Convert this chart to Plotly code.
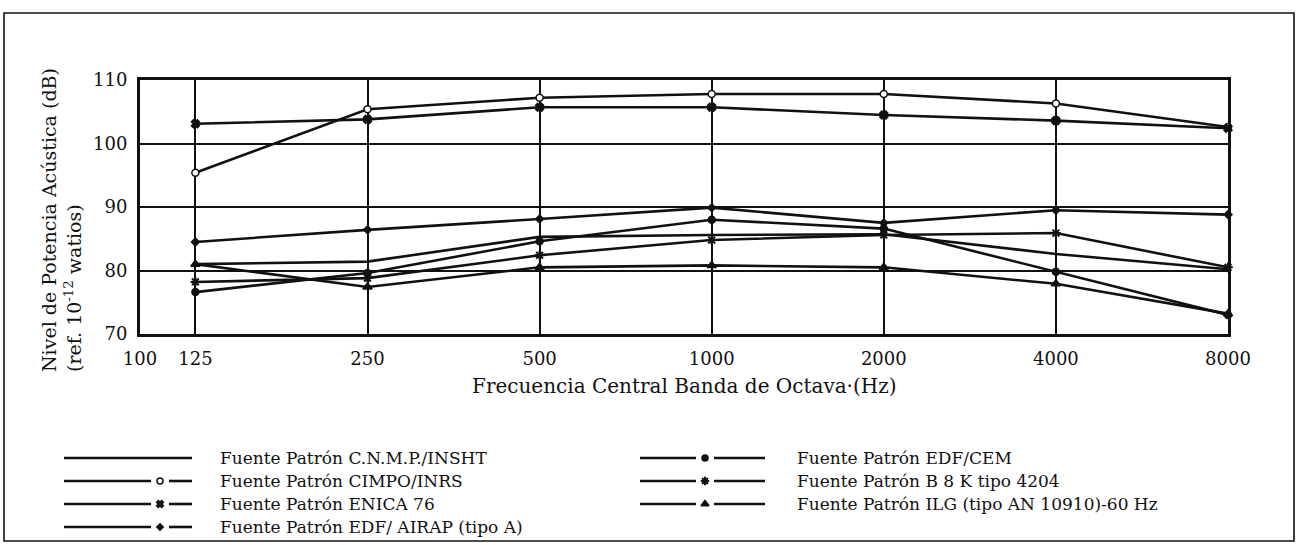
import math
import plotly.graph_objects as go

# ---------------- data ----------------
freqs = [125, 250, 500, 1000, 2000, 4000, 8000]
x_tick_vals = [100, 125, 250, 500, 1000, 2000, 4000, 8000]
x_tick_text = ["100", "125", "250", "500", "1000", "2000", "4000", "8000"]
y_tick_vals = [70, 80, 90, 100, 110]

series_names = [
    "Fuente Patrón C.N.M.P./INSHT",
    "Fuente Patrón CIMPO/INRS",
    "Fuente Patrón ENICA 76",
    "Fuente Patrón EDF/ AIRAP (tipo A)",
    "Fuente Patrón EDF/CEM",
    "Fuente Patrón B 8 K tipo 4204",
    "Fuente Patrón ILG (tipo AN 10910)-60 Hz",
]
cnmp = [81.0, 81.4, 85.3, 85.6, 85.7, 82.6, 80.2]
cimpo = [95.4, 105.4, 107.2, 107.8, 107.8, 106.3, 102.6]
enica = [103.1, 103.8, 105.7, 105.7, 104.5, 103.6, 102.4]
airap = [84.5, 86.4, 88.1, 89.9, 87.5, 89.5, 88.8]
cem = [76.6, 79.6, 84.6, 88.0, 86.6, 79.8, 73.0]
bk = [78.2, 78.8, 82.4, 84.8, 85.6, 85.9, 80.5]
ilg = [81.0, 77.4, 80.5, 80.8, 80.5, 77.9, 73.2]
series_values = [cnmp, cimpo, enica, airap, cem, bk, ilg]

# ---------------- styles ----------------
W, H = 1298, 545
FONT = "DejaVu Serif"
INK = "#111111"
symbols = [None, "circle", "x", "diamond", "circle", "asterisk-open", "triangle-up"]
sizes = [0, 7, 7, 6, 7, 8, 8]
fills = [INK, "white", INK, INK, INK, INK, INK]

# plot area in pixels
PL, PR, PT, PB = 140, 1228, 80, 334

fig = go.Figure()

for name, vals, sym, sz, fc in zip(series_names, series_values, symbols, sizes, fills):
    mk = dict(size=sz, color=fc, line=dict(color=INK, width=1.5)) if sym else dict(size=0)
    if sym:
        mk["symbol"] = sym
        if sym == "asterisk-open":
            mk["line"] = dict(color=INK, width=2)
    fig.add_trace(go.Scatter(
        x=freqs, y=vals, name=name, mode="lines+markers" if sym else "lines",
        line=dict(color=INK, width=2.6), marker=mk, showlegend=False,
        xaxis="x", yaxis="y", cliponaxis=False,
    ))

# ---------------- legend (pixel overlay axis) ----------------
left_rows = [458, 481, 504, 527]
right_rows = [458, 481, 504]
col_specs = [
    dict(x0=64, x1=192, xm=160, tx=218),
    dict(x0=640, x1=765, xm=705, tx=795),
]
positions = []
for i in range(4):
    positions.append((col_specs[0], left_rows[i]))
for i in range(3):
    positions.append((col_specs[1], right_rows[i]))

annotations = []
for (spec, yy), name, sym, sz, fc in zip(positions, series_names, symbols, sizes, fills):
    if sym is None:
        fig.add_trace(go.Scatter(x=[spec["x0"], spec["x1"]], y=[yy, yy], mode="lines",
                                 line=dict(color=INK, width=2.6), showlegend=False,
                                 xaxis="x2", yaxis="y2", hoverinfo="skip"))
    else:
        gap = 9
        fig.add_trace(go.Scatter(x=[spec["x0"], spec["xm"] - gap, None, spec["xm"] + gap, spec["x1"]],
                                 y=[yy, yy, None, yy, yy], mode="lines",
                                 line=dict(color=INK, width=2.6), showlegend=False,
                                 xaxis="x2", yaxis="y2", hoverinfo="skip"))
        mk = dict(symbol=sym, size=sz - 1, color=fc, line=dict(color=INK, width=1.5))
        if sym == "asterisk-open":
            mk["line"] = dict(color=INK, width=2)
        fig.add_trace(go.Scatter(x=[spec["xm"]], y=[yy], mode="markers", marker=mk,
                                 showlegend=False, xaxis="x2", yaxis="y2", hoverinfo="skip"))
    annotations.append(dict(x=spec["tx"], y=yy, xref="x2", yref="y2", text=name,
                            showarrow=False, xanchor="left", yanchor="middle",
                            font=dict(family=FONT, size=17, color=INK)))

# axis titles
annotations.append(dict(x=(PL + PR) / 2, y=386, xref="x2", yref="y2",
                        text="Frecuencia Central Banda de Octava·(Hz)", showarrow=False,
                        xanchor="center", yanchor="middle",
                        font=dict(family=FONT, size=20, color=INK)))
annotations.append(dict(x=61, y=220, xref="x2", yref="y2", textangle=-90, align="left",
                        text="Nivel de Potencia Acústica (dB)<br>(ref. 10<sup>-12</sup> watios)",
                        showarrow=False, xanchor="center", yanchor="middle",
                        font=dict(family=FONT, size=19, color=INK)))

shapes = [dict(type="rect", xref="x2", yref="y2", x0=4, y0=13, x1=1294, y1=541,
               line=dict(color=INK, width=1.6), layer="below")]

fig.update_layout(
    width=W, height=H,
    margin=dict(l=0, r=0, t=0, b=0),
    paper_bgcolor="white", plot_bgcolor="rgba(0,0,0,0)",
    font=dict(family=FONT, size=18, color=INK),
    showlegend=False,
    annotations=annotations,
    shapes=shapes,
    xaxis=dict(
        type="log", range=[math.log10(100), math.log10(8000)],
        domain=[PL / W, PR / W], anchor="y",
        tickvals=x_tick_vals, ticktext=x_tick_text, ticks="",
        ticklabelstandoff=6,
        showgrid=True, gridcolor=INK, gridwidth=1.6,
        showline=True, linecolor=INK, linewidth=3, mirror=True,
        zeroline=False, automargin=False,
        tickfont=dict(family=FONT, size=18, color=INK),
    ),
    yaxis=dict(
        range=[70, 110], domain=[(H - PB) / H, (H - PT) / H], anchor="x",
        tickvals=y_tick_vals, ticks="", ticklabelstandoff=6,
        showgrid=True, gridcolor=INK, gridwidth=1.6,
        showline=True, linecolor=INK, linewidth=3, mirror=True,
        zeroline=False, automargin=False,
        tickfont=dict(family=FONT, size=18, color=INK),
    ),
    xaxis2=dict(range=[0, W], domain=[0, 1], anchor="y2", visible=False,
                showgrid=False, zeroline=False, fixedrange=True),
    yaxis2=dict(range=[H, 0], domain=[0, 1], anchor="x2", visible=False,
                showgrid=False, zeroline=False, fixedrange=True),
)

fig.write_html("out.html", config={"displayModeBar": False},
               post_script="document.body.style.margin='0';document.body.style.overflow='hidden';")
